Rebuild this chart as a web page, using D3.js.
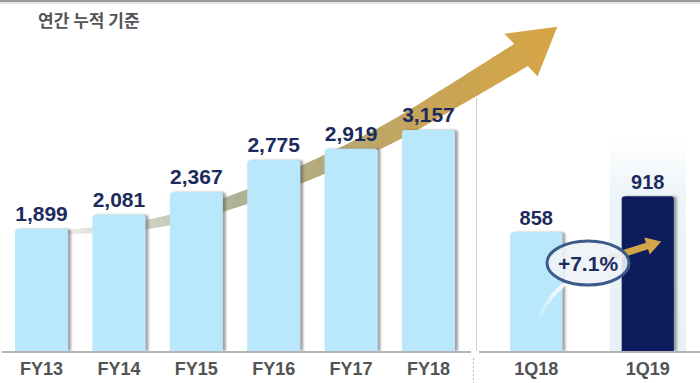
<!DOCTYPE html>
<html>
<head>
<meta charset="utf-8">
<script src="https://cdn.jsdelivr.net/npm/d3@7"></script>
<style>
  body { margin: 0; background: #fff; }
  svg { display: block; }
</style>
</head>
<body>
<svg id="chart" width="700" height="383"></svg>
<script>
// data
var yearCats = ["FY13", "FY14", "FY15", "FY16", "FY17", "FY18"];
var yearVals = [1899, 2081, 2367, 2775, 2919, 3157];
var qtrCats = ["1Q18", "1Q19"];
var qtrVals = [858, 918];
var growthLabel = "+7.1%";
var title = "연간 누적 기준";

var W = 700, H = 383;
var BASE = 351;
var NAVY = "#1c2b5e";
var LIGHT = "#b9e7fb";
var DARK = "#0b1f5b";

var svg = d3.select("#chart");
var defs = svg.append("defs");

var f = defs.append("filter").attr("id", "shadow")
  .attr("x", "-20%").attr("y", "-10%").attr("width", "140%").attr("height", "120%");
f.append("feDropShadow").attr("dx", 3).attr("dy", 0).attr("stdDeviation", 1)
  .attr("flood-color", "#555").attr("flood-opacity", 0.55);

var grad = defs.append("linearGradient").attr("id", "arrowGrad")
  .attr("gradientUnits", "userSpaceOnUse")
  .attr("x1", 60).attr("y1", 0).attr("x2", 560).attr("y2", 0);
[[0, "#eceeea"], [0.18, "#cfd2c3"], [0.35, "#aeb296"], [0.55, "#b6a877"],
 [0.72, "#c7a458"], [1, "#d6a544"]].forEach(function (s) {
  grad.append("stop").attr("offset", s[0]).attr("stop-color", s[1]);
});

var swoosh = defs.append("linearGradient").attr("id", "swoosh")
  .attr("x1", 0).attr("y1", 1).attr("x2", 0).attr("y2", 0);
swoosh.append("stop").attr("offset", 0).attr("stop-color", "#fff").attr("stop-opacity", 0);
swoosh.append("stop").attr("offset", 1).attr("stop-color", "#fff").attr("stop-opacity", 0.9);

var panelGrad = defs.append("linearGradient").attr("id", "panelGrad")
  .attr("x1", 0).attr("y1", 0).attr("x2", 0).attr("y2", 1);
panelGrad.append("stop").attr("offset", 0).attr("stop-color", "#f3f8fa").attr("stop-opacity", 0);
panelGrad.append("stop").attr("offset", 0.25).attr("stop-color", "#edf5f8");
panelGrad.append("stop").attr("offset", 1).attr("stop-color", "#e6f1f5");

// top border
svg.append("rect").attr("x", 0).attr("y", 0).attr("width", W).attr("height", 2).attr("fill", "#9a9a9a");
svg.append("rect").attr("x", 0).attr("y", 2).attr("width", W).attr("height", 2).attr("fill", "#e2e2e2");

svg.append("text").attr("x", 38).attr("y", 27)
  .attr("font-family", "'Noto Sans CJK KR', sans-serif")
  .attr("font-weight", "bold").attr("font-size", 17).attr("fill", "#555")
  .text(title);

// scales
var xYear = d3.scaleBand().domain(yearCats).range([0, 470])
  .paddingInner(0.315).paddingOuter(0.194);
var yYear = d3.scaleLinear().domain([350, 3400]).range([BASE, BASE - 240]);

var xQtr = d3.scaleBand().domain(qtrCats).range([478, 706])
  .paddingInner(0.532).paddingOuter(0.288);
var yQtr = d3.scaleLinear().domain([660, 1000]).range([BASE, BASE - 204]);

// growth arrow (behind bars), variable width band
var center = [[66, 232], [150, 224], [235, 201], [312, 170], [390, 133], [455, 95], [521, 55]];
var tmp = svg.append("path")
  .attr("d", d3.line().curve(d3.curveCatmullRom)(center))
  .attr("fill", "none").attr("stroke", "none");
var node = tmp.node(), L = node.getTotalLength();
var N = 80, left = [], right = [];
for (var i = 0; i <= N; i++) {
  var l = L * i / N;
  var p = node.getPointAtLength(l);
  var a = node.getPointAtLength(Math.max(0, l - 1));
  var b = node.getPointAtLength(Math.min(L, l + 1));
  var dx = b.x - a.x, dy = b.y - a.y, dl = Math.sqrt(dx * dx + dy * dy);
  var nx = -dy / dl, ny = dx / dl;
  var w = (4 + 22 * Math.pow(i / N, 0.8)) / 2;
  left.push([p.x + nx * w, p.y + ny * w]);
  right.push([p.x - nx * w, p.y - ny * w]);
}
tmp.remove();
var end = center[center.length - 1];
var hd = [36, -28], hl = Math.sqrt(hd[0] * hd[0] + hd[1] * hd[1]);
hd = [hd[0] / hl, hd[1] / hl];
var hn = [-hd[1], hd[0]];
var tip = [end[0] + hd[0] * 46, end[1] + hd[1] * 46];
var barbA = [end[0] - hn[0] * 27, end[1] - hn[1] * 27];
var barbB = [end[0] + hn[0] * 27, end[1] + hn[1] * 27];
var poly = left.concat([barbB, tip, barbA]).concat(right.slice().reverse());
svg.append("path")
  .attr("d", "M" + poly.map(function (q) { return q[0].toFixed(1) + "," + q[1].toFixed(1); }).join("L") + "Z")
  .attr("fill", "url(#arrowGrad)");

// separator
svg.append("line").attr("x1", 476.5).attr("x2", 476.5).attr("y1", 98).attr("y2", BASE)
  .attr("stroke", "#d0d0d0").attr("stroke-width", 1);
svg.append("line").attr("x1", 473.5).attr("x2", 473.5).attr("y1", 358).attr("y2", H)
  .attr("stroke", "#bbb").attr("stroke-width", 1).attr("stroke-dasharray", "2,2");

// light panel behind 1Q19
svg.append("rect")
  .attr("x", xQtr("1Q19") - 12).attr("y", yQtr(918) - 60)
  .attr("width", xQtr.bandwidth() + 24).attr("height", BASE - yQtr(918) + 60)
  .attr("fill", "url(#panelGrad)");

// bars
function roundTop(x, y, w, h, r) {
  return "M" + x + "," + (y + h) + "V" + (y + r) + "Q" + x + "," + y + " " + (x + r) + "," + y +
    "H" + (x + w - r) + "Q" + (x + w) + "," + y + " " + (x + w) + "," + (y + r) + "V" + (y + h) + "Z";
}

svg.append("g").selectAll("path").data(yearCats).enter().append("path")
  .attr("d", function (d, i) {
    return roundTop(xYear(d), yYear(yearVals[i]), xYear.bandwidth(), BASE - yYear(yearVals[i]), 3);
  })
  .attr("fill", LIGHT).attr("filter", "url(#shadow)");

svg.append("g").selectAll("path").data(qtrCats).enter().append("path")
  .attr("d", function (d, i) {
    return roundTop(xQtr(d), yQtr(qtrVals[i]), xQtr.bandwidth(), BASE - yQtr(qtrVals[i]), 3);
  })
  .attr("fill", function (d, i) { return i === 1 ? DARK : LIGHT; })
  .attr("filter", "url(#shadow)");

// baselines
svg.append("line").attr("x1", 2).attr("x2", 471).attr("y1", BASE + 1).attr("y2", BASE + 1)
  .attr("stroke", "#b5b5b5").attr("stroke-width", 2);
svg.append("line").attr("x1", 479).attr("x2", W).attr("y1", BASE + 1).attr("y2", BASE + 1)
  .attr("stroke", "#b5b5b5").attr("stroke-width", 2);

// value labels
var valFont = "'Liberation Sans', Arial, sans-serif";
svg.append("g").selectAll("text").data(yearCats).enter().append("text")
  .attr("x", function (d) { return xYear(d) + xYear.bandwidth() / 2; })
  .attr("y", function (d, i) { return yYear(yearVals[i]) - 8; })
  .attr("text-anchor", "middle").attr("font-family", valFont)
  .attr("font-weight", "bold").attr("font-size", 21).attr("fill", NAVY)
  .text(function (d, i) { return d3.format(",")(yearVals[i]); });

svg.append("g").selectAll("text").data(qtrCats).enter().append("text")
  .attr("x", function (d) { return xQtr(d) + xQtr.bandwidth() / 2; })
  .attr("y", function (d, i) { return yQtr(qtrVals[i]) - 7; })
  .attr("text-anchor", "middle").attr("font-family", valFont)
  .attr("font-weight", "bold").attr("font-size", 20).attr("fill", NAVY)
  .text(function (d, i) { return d3.format(",")(qtrVals[i]); });

// category labels
var catFont = "'Liberation Sans Narrow', 'Liberation Sans', Arial, sans-serif";
svg.append("g").selectAll("text").data(yearCats).enter().append("text")
  .attr("x", function (d) { return xYear(d) + xYear.bandwidth() / 2; })
  .attr("y", 375).attr("text-anchor", "middle").attr("font-family", catFont)
  .attr("font-weight", "bold").attr("font-size", 18).attr("fill", "#545454")
  .text(function (d) { return d; });
svg.append("g").selectAll("text").data(qtrCats).enter().append("text")
  .attr("x", function (d) { return xQtr(d) + xQtr.bandwidth() / 2; })
  .attr("y", 375).attr("text-anchor", "middle").attr("font-family", catFont)
  .attr("font-weight", "bold").attr("font-size", 18).attr("fill", "#545454")
  .text(function (d) { return d; });

// growth badge in the quarterly panel
var cx = 588, cy = 263;
svg.append("path")
  .attr("d", "M538,322 Q548,295 568,282")
  .attr("fill", "none").attr("stroke", "url(#swoosh)").attr("stroke-width", 4).attr("stroke-linecap", "round");
var s0 = [600, 261], s1 = [647, 246];
var sd = [s1[0] - s0[0], s1[1] - s0[1]], sl = Math.sqrt(sd[0] * sd[0] + sd[1] * sd[1]);
sd = [sd[0] / sl, sd[1] / sl];
var sn = [-sd[1], sd[0]];
var stip = [s1[0] + sd[0] * 15, s1[1] + sd[1] * 15];
var sw = 3.5, sh = 9;
var small = [
  [s0[0] + sn[0] * sw, s0[1] + sn[1] * sw],
  [s1[0] + sn[0] * sw, s1[1] + sn[1] * sw],
  [s1[0] + sn[0] * sh, s1[1] + sn[1] * sh],
  stip,
  [s1[0] - sn[0] * sh, s1[1] - sn[1] * sh],
  [s1[0] - sn[0] * sw, s1[1] - sn[1] * sw],
  [s0[0] - sn[0] * sw, s0[1] - sn[1] * sw]
];
svg.append("path")
  .attr("d", "M" + small.map(function (q) { return q.join(","); }).join("L") + "Z")
  .attr("fill", "#d3a54a");
svg.append("ellipse").attr("cx", cx).attr("cy", cy).attr("rx", 41).attr("ry", 22)
  .attr("fill", "#eef3f8").attr("fill-opacity", 0.9)
  .attr("stroke", "#3d5b88").attr("stroke-width", 3);
svg.append("text").attr("x", cx).attr("y", cy + 8)
  .attr("text-anchor", "middle").attr("font-family", valFont)
  .attr("font-weight", "bold").attr("font-size", 21).attr("fill", NAVY)
  .text(growthLabel);
</script>
</body>
</html>
